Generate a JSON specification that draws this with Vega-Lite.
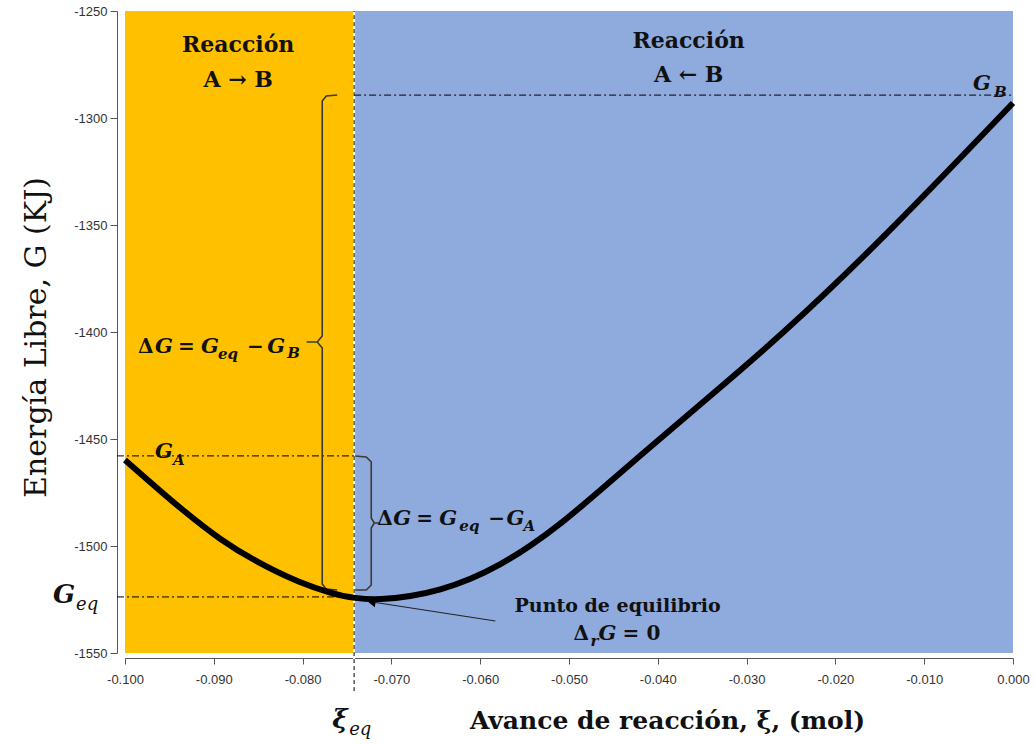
{
  "$schema": "https://vega.github.io/schema/vega-lite/v6.json",
  "width": 888,
  "height": 642,
  "autosize": {"type": "none"},
  "padding": {"left": 125, "top": 11, "right": 22, "bottom": 91},
  "background": "white",
  "config": {"view": {"stroke": null}},
  "datasets": {
    "bands": [
      {"xi": -0.1, "xi2": -0.0742, "G": -1550, "G2": -1250, "region": "A→B"},
      {"xi": -0.0742, "xi2": 0.0, "G": -1550, "G2": -1250, "region": "A←B"}
    ],
    "curve": [
      {"xi": -0.1, "G": -1459.81},
      {"xi": -0.09718, "G": -1470.09},
      {"xi": -0.0938, "G": -1482.24},
      {"xi": -0.08929, "G": -1497.2},
      {"xi": -0.08478, "G": -1508.41},
      {"xi": -0.08027, "G": -1517.29},
      {"xi": -0.07689, "G": -1521.96},
      {"xi": -0.07407, "G": -1524.6},
      {"xi": -0.07125, "G": -1525.1},
      {"xi": -0.06787, "G": -1523.6},
      {"xi": -0.06449, "G": -1520.56},
      {"xi": -0.0611, "G": -1515.6},
      {"xi": -0.05772, "G": -1508.8},
      {"xi": -0.05434, "G": -1500.0},
      {"xi": -0.05096, "G": -1489.72},
      {"xi": -0.04645, "G": -1474.0},
      {"xi": -0.04194, "G": -1457.48},
      {"xi": -0.03517, "G": -1433.64},
      {"xi": -0.02616, "G": -1401.87},
      {"xi": -0.01488, "G": -1357.5},
      {"xi": 0.0, "G": -1292.99}
    ],
    "hlines": [
      {"name": "GA", "xi": -0.1009, "xi2": -0.0742, "G": -1457.9},
      {"name": "Geq", "xi": -0.1009, "xi2": -0.0742, "G": -1523.8},
      {"name": "GB", "xi": -0.0742, "xi2": 0.0, "G": -1289.3}
    ],
    "vline": [
      {"xi": -0.0742, "G": -1567.8, "G2": -1250}
    ],
    "braces": [
      {"name": "big", "i": 1, "xi": -0.0761, "G": -1289.25},
      {"name": "big", "i": 2, "xi": -0.07734, "G": -1289.72},
      {"name": "big", "i": 3, "xi": -0.07779, "G": -1292.06},
      {"name": "big", "i": 4, "xi": -0.07779, "G": -1401.87},
      {"name": "big", "i": 5, "xi": -0.07835, "G": -1404.67},
      {"name": "big", "i": 6, "xi": -0.07948, "G": -1404.67},
      {"name": "big", "i": 7, "xi": -0.07835, "G": -1404.67},
      {"name": "big", "i": 8, "xi": -0.07779, "G": -1407.48},
      {"name": "big", "i": 9, "xi": -0.07779, "G": -1517.76},
      {"name": "big", "i": 10, "xi": -0.07734, "G": -1520.09},
      {"name": "big", "i": 11, "xi": -0.0761, "G": -1520.56},
      {"name": "small", "i": 1, "xi": -0.07407, "G": -1457.94},
      {"name": "small", "i": 2, "xi": -0.07283, "G": -1458.41},
      {"name": "small", "i": 3, "xi": -0.07227, "G": -1460.75},
      {"name": "small", "i": 4, "xi": -0.07227, "G": -1486.92},
      {"name": "small", "i": 5, "xi": -0.07193, "G": -1489.25},
      {"name": "small", "i": 6, "xi": -0.07136, "G": -1489.25},
      {"name": "small", "i": 7, "xi": -0.07193, "G": -1489.25},
      {"name": "small", "i": 8, "xi": -0.07227, "G": -1491.59},
      {"name": "small", "i": 9, "xi": -0.07227, "G": -1518.22},
      {"name": "small", "i": 10, "xi": -0.07283, "G": -1520.56},
      {"name": "small", "i": 11, "xi": -0.07407, "G": -1520.56}
    ],
    "arrow": [
      {"i": 1, "xi": -0.05829, "G": -1535.05},
      {"i": 2, "xi": -0.07215, "G": -1526.17}
    ],
    "arrowhead": [
      {"xi": -0.0722, "G": -1526.4}
    ],
    "labels": [
      {"kind": "head", "text": "Reacción", "xi": -0.08726, "G": -1269.16},
      {"kind": "head", "text": "A → B", "xi": -0.08726, "G": -1285.51},
      {"kind": "head", "text": "Reacción", "xi": -0.03653, "G": -1267.29},
      {"kind": "head", "text": "A ← B", "xi": -0.03653, "G": -1283.18},
      {"kind": "note", "text": "Punto de equilibrio", "xi": -0.04453, "G": -1530.84},
      {"kind": "op", "text": "Δ", "xi": -0.09853, "G": -1409.81},
      {"kind": "math", "text": "G", "xi": -0.09662, "G": -1409.81},
      {"kind": "op", "text": "=", "xi": -0.09402, "G": -1409.81},
      {"kind": "math", "text": "G", "xi": -0.09143, "G": -1409.81},
      {"kind": "sub", "text": "eq", "xi": -0.08952, "G": -1412.62},
      {"kind": "op", "text": "−", "xi": -0.08625, "G": -1409.81},
      {"kind": "math", "text": "G", "xi": -0.08399, "G": -1409.81},
      {"kind": "sub", "text": "B", "xi": -0.08174, "G": -1412.15},
      {"kind": "op", "text": "Δ", "xi": -0.07159, "G": -1490.19},
      {"kind": "math", "text": "G", "xi": -0.06979, "G": -1490.19},
      {"kind": "op", "text": "=", "xi": -0.06719, "G": -1490.19},
      {"kind": "math", "text": "G", "xi": -0.0646, "G": -1490.19},
      {"kind": "sub", "text": "eq", "xi": -0.06235, "G": -1493.0},
      {"kind": "op", "text": "−", "xi": -0.05908, "G": -1490.19},
      {"kind": "math", "text": "G", "xi": -0.05705, "G": -1490.19},
      {"kind": "sub", "text": "A", "xi": -0.05513, "G": -1493.0},
      {"kind": "math", "text": "G", "xi": -0.09662, "G": -1458.88},
      {"kind": "sub", "text": "A", "xi": -0.09459, "G": -1462.15},
      {"kind": "math", "text": "G", "xi": -0.00451, "G": -1286.92},
      {"kind": "sub", "text": "B", "xi": -0.00214, "G": -1290.19},
      {"kind": "op", "text": "Δ", "xi": -0.04949, "G": -1543.93},
      {"kind": "sub", "text": "r", "xi": -0.04758, "G": -1546.73},
      {"kind": "math", "text": "G", "xi": -0.04667, "G": -1543.93},
      {"kind": "op", "text": "=", "xi": -0.04397, "G": -1543.93},
      {"kind": "op", "text": "0", "xi": -0.04126, "G": -1543.93},
      {"kind": "big", "text": "G", "xi": -0.10812, "G": -1526.64},
      {"kind": "bigsub", "text": "eq", "xi": -0.10552, "G": -1529.91},
      {"kind": "big", "text": "ξ", "xi": -0.07666, "G": -1585.05},
      {"kind": "bigsub", "text": "eq", "xi": -0.07475, "G": -1588.32}
    ]
  },
  "encoding": {
    "x": {
      "field": "xi",
      "type": "quantitative",
      "scale": {"domain": [-0.1, 0], "nice": false, "zero": false},
      "axis": {
        "title": "Avance de reacción, ξ, (mol)",
        "values": [-0.1, -0.09, -0.08, -0.07, -0.06, -0.05, -0.04, -0.03, -0.02, -0.01, 0],
        "labelExpr": "replace(format(datum.value, '.3f'), '−', '-')",
        "labelFlush": false,
        "grid": false,
        "offset": 5,
        "tickSize": 6,
        "tickColor": "#555555",
        "domainColor": "#555555",
        "labelFont": "Liberation Sans",
        "labelFontSize": 13,
        "labelColor": "#333333",
        "labelPadding": 9,
        "titleFont": "DejaVu Serif",
        "titleFontWeight": "bold",
        "titleFontSize": 25,
        "titleColor": "#111111",
        "titleX": 542,
        "titleY": 70,
        "titleAlign": "center",
        "titleBaseline": "alphabetic"
      }
    },
    "y": {
      "field": "G",
      "type": "quantitative",
      "scale": {"domain": [-1550, -1250], "nice": false, "zero": false},
      "axis": {
        "title": "Energía Libre, G (KJ)",
        "values": [-1550, -1500, -1450, -1400, -1350, -1300, -1250],
        "labelExpr": "replace(format(datum.value, 'd'), '−', '-')",
        "labelFlush": false,
        "grid": false,
        "offset": 8,
        "tickSize": 7,
        "tickColor": "#555555",
        "domainColor": "#555555",
        "labelFont": "Liberation Sans",
        "labelFontSize": 13,
        "labelColor": "#333333",
        "labelPadding": 3,
        "titleFont": "DejaVu Serif",
        "titleFontWeight": "normal",
        "titleFontSize": 30,
        "titleColor": "#111111",
        "titleAngle": -90,
        "titleX": -72,
        "titleY": 326,
        "titleAlign": "center",
        "titleBaseline": "alphabetic"
      }
    }
  },
  "layer": [
    {
      "data": {"name": "bands"},
      "mark": {"type": "rect"},
      "encoding": {
        "x2": {"field": "xi2"},
        "y2": {"field": "G2"},
        "color": {
          "field": "region",
          "type": "nominal",
          "scale": {"domain": ["A→B", "A←B"], "range": ["#FFC000", "#8FAADC"]},
          "legend": null
        }
      }
    },
    {
      "data": {"name": "vline"},
      "mark": {"type": "rule", "color": "white", "strokeWidth": 2},
      "encoding": {"y2": {"field": "G2"}}
    },
    {
      "data": {"name": "vline"},
      "mark": {"type": "rule", "color": "black", "strokeWidth": 1, "strokeDash": [4, 3]},
      "encoding": {"y2": {"field": "G2"}}
    },
    {
      "data": {"name": "hlines"},
      "mark": {"type": "rule", "color": "black", "strokeWidth": 1, "strokeDash": [7, 3, 2, 3]},
      "encoding": {"x2": {"field": "xi2"}}
    },
    {
      "data": {"name": "braces"},
      "mark": {"type": "line", "color": "#3d3a30", "strokeWidth": 1.6, "strokeJoin": "round"},
      "encoding": {
        "detail": {"field": "name"},
        "order": {"field": "i", "type": "quantitative"}
      }
    },
    {
      "data": {"name": "arrow"},
      "mark": {"type": "line", "color": "#222222", "strokeWidth": 1.2},
      "encoding": {"order": {"field": "i", "type": "quantitative"}}
    },
    {
      "data": {"name": "arrowhead"},
      "mark": {"type": "point", "shape": "triangle-left", "filled": true, "color": "black", "size": 70, "angle": 9, "opacity": 1}
    },
    {
      "data": {"name": "curve"},
      "mark": {"type": "line", "color": "black", "strokeWidth": 6, "interpolate": "basis", "strokeCap": "butt"}
    },
    {
      "data": {"name": "labels"},
      "transform": [{"filter": "datum.kind === 'head'"}],
      "mark": {"type": "text", "font": "DejaVu Serif", "fontWeight": "bold", "fontSize": 22, "align": "center", "baseline": "alphabetic", "color": "#111111"},
      "encoding": {"text": {"field": "text"}}
    },
    {
      "data": {"name": "labels"},
      "transform": [{"filter": "datum.kind === 'note'"}],
      "mark": {"type": "text", "font": "DejaVu Serif", "fontWeight": "bold", "fontSize": 19, "align": "center", "baseline": "alphabetic", "color": "#111111"},
      "encoding": {"text": {"field": "text"}}
    },
    {
      "data": {"name": "labels"},
      "transform": [{"filter": "datum.kind === 'op'"}],
      "mark": {"type": "text", "font": "DejaVu Serif", "fontWeight": "bold", "fontSize": 20, "align": "left", "baseline": "alphabetic", "color": "#111111"},
      "encoding": {"text": {"field": "text"}}
    },
    {
      "data": {"name": "labels"},
      "transform": [{"filter": "datum.kind === 'math'"}],
      "mark": {"type": "text", "font": "DejaVu Serif", "fontWeight": "bold", "fontStyle": "italic", "fontSize": 21, "align": "left", "baseline": "alphabetic", "color": "#111111"},
      "encoding": {"text": {"field": "text"}}
    },
    {
      "data": {"name": "labels"},
      "transform": [{"filter": "datum.kind === 'sub'"}],
      "mark": {"type": "text", "font": "DejaVu Serif", "fontWeight": "bold", "fontStyle": "italic", "fontSize": 15, "align": "left", "baseline": "alphabetic", "color": "#111111"},
      "encoding": {"text": {"field": "text"}}
    },
    {
      "data": {"name": "labels"},
      "transform": [{"filter": "datum.kind === 'big'"}],
      "mark": {"type": "text", "font": "DejaVu Serif", "fontWeight": "bold", "fontStyle": "italic", "fontSize": 26, "align": "left", "baseline": "alphabetic", "color": "#111111"},
      "encoding": {"text": {"field": "text"}}
    },
    {
      "data": {"name": "labels"},
      "transform": [{"filter": "datum.kind === 'bigsub'"}],
      "mark": {"type": "text", "font": "DejaVu Serif", "fontStyle": "italic", "fontSize": 18, "align": "left", "baseline": "alphabetic", "color": "#111111"},
      "encoding": {"text": {"field": "text"}}
    }
  ]
}
